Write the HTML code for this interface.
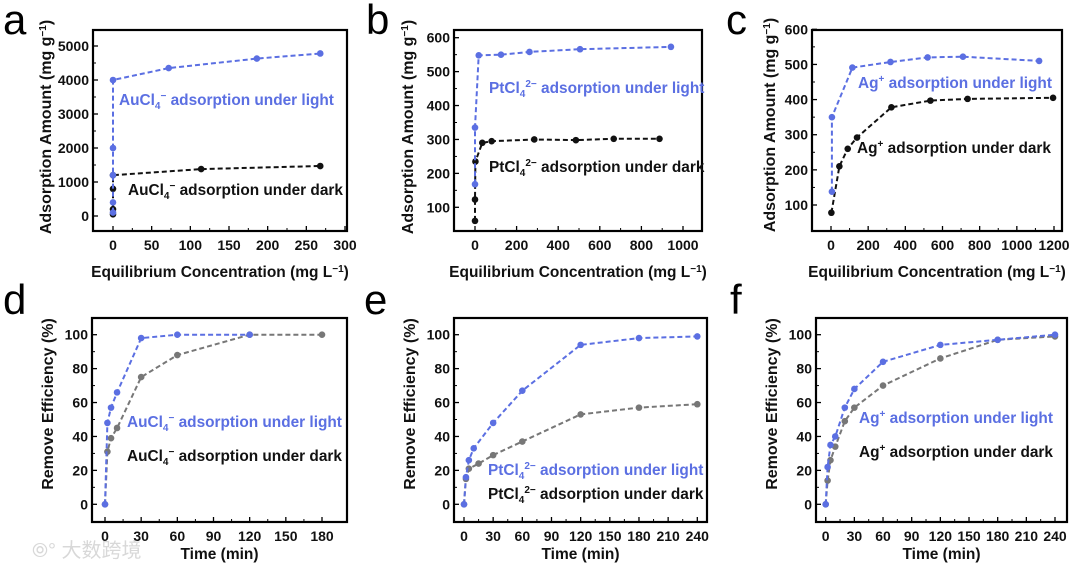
<!DOCTYPE html>
<html><head><meta charset="utf-8">
<style>
html,body{margin:0;padding:0;background:#fff;}
svg{display:block;font-family:"Liberation Sans","Noto Sans CJK SC",sans-serif;}
.tick{font-size:14px;font-weight:bold;fill:#111;}
.title{font-size:16px;font-weight:bold;fill:#111;}
.xtitle{font-size:15.5px;font-weight:bold;fill:#111;}
.leg{font-size:15.4px;font-weight:bold;}
.letter{font-size:42px;fill:#000;}
</style></head>
<body>
<svg id="fig" width="1080" height="571" viewBox="0 0 1080 571" xmlns="http://www.w3.org/2000/svg">
<text x="32" y="557" font-size="20" fill="#d8d8d8">⦾° 大数跨境</text>
</svg>
<script>
// Panel a
const aLightX=[0,0,0,0,0,72,186,268];
const aLightY=[100,400,1200,2000,4000,4350,4630,4780];
const aDarkX=[0,0,0,0,114,268];
const aDarkY=[50,200,800,1200,1380,1470];
const aXTicks=[0,50,100,150,200,250,300];
const aYTicks=[0,1000,2000,3000,4000,5000];
// Panel b
const bLightX=[0,0,18,125,262,505,942];
const bLightY=[168,335,548,550,558,566,573];
const bDarkX=[0,0,2,35,80,285,485,667,887];
const bDarkY=[60,123,235,290,295,300,298,302,302];
const bXTicks=[0,200,400,600,800,1000];
const bYTicks=[100,200,300,400,500,600];
// Panel c
const cLightX=[5,5,115,320,520,710,1120];
const cLightY=[138,350,491,507,520,522,510];
const cDarkX=[2,45,90,140,325,535,735,1195];
const cDarkY=[78,210,260,292,378,397,402,405];
const cXTicks=[0,200,400,600,800,1000,1200];
const cYTicks=[100,200,300,400,500,600];
// Panel d
const dLightX=[0,2,5,10,30,60,120];
const dLightY=[0,48,57,66,98,100,100];
const dDarkX=[0,2,5,10,30,60,120,180];
const dDarkY=[0,31,39,45,75,88,100,100];
const dXTicks=[0,30,60,90,120,150,180];
// Panel e
const eLightX=[0,2,5,10,30,60,120,180,240];
const eLightY=[0,16,26,33,48,67,94,98,99];
const eDarkX=[0,2,5,15,30,60,120,180,240];
const eDarkY=[0,15,21,24,29,37,53,57,59];
const eXTicks=[0,30,60,90,120,150,180,210,240];
// Panel f
const fLightX=[0,2,5,10,20,30,60,120,180,240];
const fLightY=[0,22,35,40,57,68,84,94,97,100];
const fDarkX=[0,2,5,10,20,30,60,120,180,240];
const fDarkY=[0,14,26,34,49,57,70,86,97,99];
const effYTicks=[0,20,40,60,80,100];

const NS="http://www.w3.org/2000/svg";
const svg=document.getElementById('fig');
const BLUE="#5b6fe2";
function mk(tag,attrs,parent){const e=document.createElementNS(NS,tag);for(const k in attrs)e.setAttribute(k,attrs[k]);(parent||svg).appendChild(e);return e;}

function panel(p){
  const g=mk('g',{});
  
  
  const sx=v=>p.x0px+(v-p.x0v)*(p.x1px-p.x0px)/(p.x1v-p.x0v);
  const sy=v=>p.y0px+(v-p.y0v)*(p.y1px-p.y0px)/(p.y1v-p.y0v);
  const L=mk('text',{x:p.lx,y:p.ly,class:'letter'},g);L.textContent=p.id;
  
  
  p.xt.forEach((v,i)=>{
    const X=sx(v);
    mk('line',{x1:X,x2:X,y1:p.box[3],y2:p.box[3]-5,stroke:'#000','stroke-width':1.3},g);
    if(i<p.xt.length-1){const m=sx(v+(p.xt[1]-p.xt[0])/2);mk('line',{x1:m,x2:m,y1:p.box[3],y2:p.box[3]-3,stroke:'#000','stroke-width':1},g);}
    const t=mk('text',{x:X,y:p.box[3]+19,class:'tick','text-anchor':'middle'},g);t.textContent=v;
    
    
  });
  p.yt.forEach((v,i)=>{
    const Y=sy(v);
    mk('line',{x1:p.box[0],x2:p.box[0]+5,y1:Y,y2:Y,stroke:'#000','stroke-width':1.3},g);
    if(i<p.yt.length-1){const m=sy(v+(p.yt[1]-p.yt[0])/2);mk('line',{x1:p.box[0],x2:p.box[0]+3,y1:m,y2:m,stroke:'#000','stroke-width':1},g);}
    const t=mk('text',{x:p.box[0]-4,y:Y+5,class:'tick','text-anchor':'end'},g);t.textContent=v;
    
    
  });
  p.series.forEach(s=>{
    const pts=s.x.map((v,i)=>sx(v).toFixed(1)+','+sy(s.y[i]).toFixed(1)).join(' ');
    const pl=mk('polyline',{points:pts,fill:'none',stroke:s.c,'stroke-width':2,'stroke-dasharray':'5,3'},g);
    
    
    s.x.forEach((v,i)=>{
      const c=mk('circle',{cx:sx(v),cy:sy(s.y[i]),r:3.3,fill:s.c},g);
      
      
    });
  });
  const b=mk('rect',{x:p.box[0],y:p.box[1],width:p.box[2]-p.box[0],height:p.box[3]-p.box[1],fill:'none',stroke:'#000','stroke-width':2.2},g);
  
  
  p.leg.forEach(l=>{
    const t=mk('text',{x:l.x,y:l.y,class:'leg',fill:l.c},g);
    t.innerHTML=l.html;
    
    
  });
  const xt=mk('text',{x:(p.box[0]+p.box[2])/2,y:p.xty,class:'xtitle','text-anchor':'middle'},g);
  xt.innerHTML=p.xtitle;
  
  
  const yt=mk('text',{x:0,y:0,class:'title','text-anchor':'middle',transform:`translate(${p.ytx},${p.ytc}) rotate(-90)`},g);
  yt.innerHTML=p.ytitle;
  
  
}
const sub=(a)=>`<tspan dy="4" font-size="10">${a}</tspan>`;
const sup=(a,dy)=>`<tspan dy="${dy}" font-size="10">${a}</tspan>`;
const au=`AuCl${sub('4')}${sup('−',-10)}<tspan dy="6"> </tspan>`;
const pt=`PtCl${sub('4')}${sup('2−',-10)}<tspan dy="6"> </tspan>`;
const ag=`Ag${sup('+',-6)}<tspan dy="6"> </tspan>`;
const conc=`Equilibrium Concentration (mg L<tspan dy="-5" font-size="10">−1</tspan><tspan dy="5">)</tspan>`;
const amt=`Adsorption Amount (mg g<tspan dy="-5" font-size="10">−1</tspan><tspan dy="5">)</tspan>`;

panel({id:'a',lx:3,ly:34,box:[93,30,347,231],x0v:0,x0px:113,x1v:300,x1px:345,y0v:0,y0px:216,y1v:5000,y1px:46,
 xt:aXTicks,yt:aYTicks,xty:277,ytx:51,ytc:127,xtitle:conc,ytitle:amt,
 series:[{name:'dark',x:aDarkX,y:aDarkY,c:'#111'},{name:'light',x:aLightX,y:aLightY,c:BLUE}],
 leg:[{x:119,y:105,c:BLUE,html:au+'adsorption under light',name:'legend-light'},{x:128,y:195,c:'#111',html:au+'adsorption under dark',name:'legend-dark'}]});
panel({id:'b',lx:366,ly:34,box:[454,30,702,231],x0v:0,x0px:475,x1v:1000,x1px:683,y0v:100,y0px:207.3,y1v:600,y1px:37.7,
 xt:bXTicks,yt:bYTicks,xty:277,ytx:413,ytc:127,xtitle:conc,ytitle:amt,
 series:[{name:'dark',x:bDarkX,y:bDarkY,c:'#111'},{name:'light',x:bLightX,y:bLightY,c:BLUE}],
 leg:[{x:489,y:93,c:BLUE,html:pt+'adsorption under light',name:'legend-light'},{x:489,y:172,c:'#111',html:pt+'adsorption under dark',name:'legend-dark'}]});
panel({id:'c',lx:726,ly:34,box:[812,30,1062,231],x0v:0,x0px:831,x1v:1200,x1px:1054,y0v:100,y0px:205,y1v:600,y1px:29.3,
 xt:cXTicks,yt:cYTicks,xty:277,ytx:775,ytc:125,xtitle:conc,ytitle:amt,
 series:[{name:'dark',x:cDarkX,y:cDarkY,c:'#111'},{name:'light',x:cLightX,y:cLightY,c:BLUE}],
 leg:[{x:858,y:88,c:BLUE,html:ag+'adsorption under light',name:'legend-light'},{x:857,y:153,c:'#111',html:ag+'adsorption under dark',name:'legend-dark'}]});
panel({id:'d',lx:3,ly:314,box:[92,318,347,522],x0v:0,x0px:105,x1v:180,x1px:322,y0v:0,y0px:504.3,y1v:100,y1px:334.7,
 xt:dXTicks,yt:effYTicks,xty:559,ytx:53,ytc:404,xtitle:'Time (min)',ytitle:'Remove Efficiency (%)',
 series:[{name:'dark',x:dDarkX,y:dDarkY,c:'#777'},{name:'light',x:dLightX,y:dLightY,c:BLUE}],
 leg:[{x:127,y:427,c:BLUE,html:au+'adsorption under light',name:'legend-light'},{x:127,y:461,c:'#111',html:au+'adsorption under dark',name:'legend-dark'}]});
panel({id:'e',lx:364,ly:314,box:[454,318,707,522],x0v:0,x0px:464,x1v:240,x1px:697.3,y0v:0,y0px:504.3,y1v:100,y1px:334.7,
 xt:eXTicks,yt:effYTicks,xty:559,ytx:415,ytc:404,xtitle:'Time (min)',ytitle:'Remove Efficiency (%)',
 series:[{name:'dark',x:eDarkX,y:eDarkY,c:'#777'},{name:'light',x:eLightX,y:eLightY,c:BLUE}],
 leg:[{x:488,y:475,c:BLUE,html:pt+'adsorption under light',name:'legend-light'},{x:488,y:499,c:'#111',html:pt+'adsorption under dark',name:'legend-dark'}]});
panel({id:'f',lx:730,ly:314,box:[816,318,1067,522],x0v:0,x0px:825.7,x1v:240,x1px:1055,y0v:0,y0px:504.3,y1v:100,y1px:334.7,
 xt:eXTicks,yt:effYTicks,xty:559,ytx:777,ytc:404,xtitle:'Time (min)',ytitle:'Remove Efficiency (%)',
 series:[{name:'dark',x:fDarkX,y:fDarkY,c:'#777'},{name:'light',x:fLightX,y:fLightY,c:BLUE}],
 leg:[{x:859,y:423,c:BLUE,html:ag+'adsorption under light',name:'legend-light'},{x:859,y:457,c:'#111',html:ag+'adsorption under dark',name:'legend-dark'}]});
</script>
</body></html>
